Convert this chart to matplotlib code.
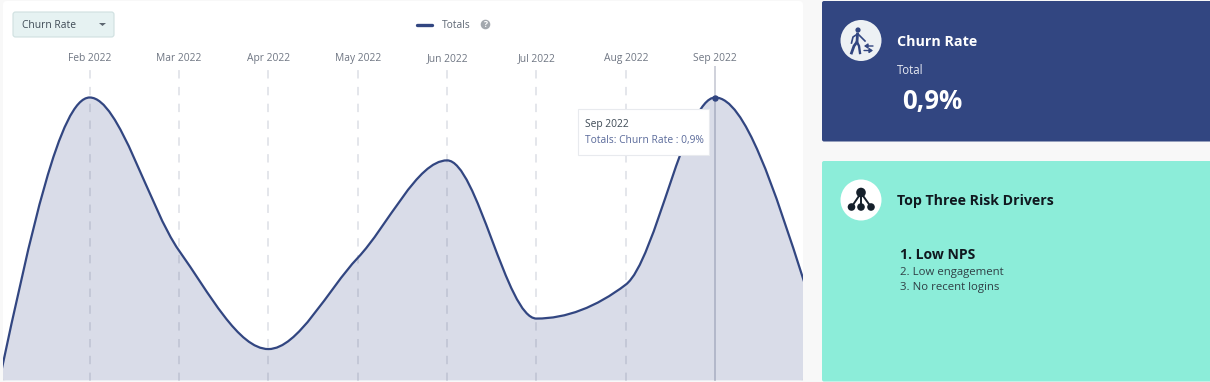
import numpy as np
import matplotlib
matplotlib.use('Agg')
import matplotlib.pyplot as plt
from matplotlib.patches import FancyBboxPatch, Circle, PathPatch, Rectangle, Polygon
from matplotlib.path import Path

plt.rcParams['font.family'] = ['Open Sans', 'DejaVu Sans']

W, H = 1210, 382

# chart data, churn rate in percent per month
months = ['Jan 2022', 'Feb 2022', 'Mar 2022', 'Apr 2022', 'May 2022', 'Jun 2022',
          'Jul 2022', 'Aug 2022', 'Sep 2022', 'Oct 2022']
churn = [0.015, 0.90, 0.413, 0.10, 0.39, 0.70, 0.197, 0.305, 0.90, 0.31]
shown_months = months[1:9]

risk_drivers = ['1. Low NPS', '2. Low engagement', '3. No recent logins']

NAVY = '#324681'
MINT = '#8CEDD9'
GRID = '#DDDFE6'
LABEL = '#6F7683'


def monotone_path(xs, ys):
    # monotone cubic, flat at local extremes
    n = len(xs)
    sec = [(ys[i + 1] - ys[i]) / (xs[i + 1] - xs[i]) for i in range(n - 1)]
    tan = [0.0] * n
    for i in range(1, n - 1):
        p = (sec[i - 1] + sec[i]) / 2
        tan[i] = (np.sign(sec[i - 1]) + np.sign(sec[i])) * min(abs(sec[i - 1]), abs(sec[i]), 0.5 * abs(p))
    tan[0] = (3 * sec[0] - tan[1]) / 2
    tan[-1] = (3 * sec[-1] - tan[-2]) / 2
    verts = [(xs[0], ys[0])]
    codes = [Path.MOVETO]
    for i in range(n - 1):
        h = (xs[i + 1] - xs[i]) / 3
        verts += [(xs[i] + h, ys[i] + h * tan[i]), (xs[i + 1] - h, ys[i + 1] - h * tan[i + 1]), (xs[i + 1], ys[i + 1])]
        codes += [Path.CURVE4] * 3
    return verts, codes


fig = plt.figure(figsize=(W / 100, H / 100), dpi=100, facecolor='#F8F8F8')

# pixel layer for the cards and widgets
bg = fig.add_axes([0, 0, 1, 1])
bg.set_xlim(0, W)
bg.set_ylim(H, 0)
bg.axis('off')
bg.add_patch(FancyBboxPatch((3, 1), 800, 380, boxstyle='round,pad=0,rounding_size=4', fc='white', ec='none'))

# chart
left_px, right_px, top_px, base_px = 3, 803, 8, 380.5
ax = fig.add_axes([left_px / W, 1 - base_px / H, (right_px - left_px) / W, (base_px - top_px) / H])
ax.patch.set_alpha(0)
x = np.arange(len(months))
step = 89.35
x0 = (89.7 - left_px) / step
ax.set_xlim(1 - x0, 1 - x0 + (right_px - left_px) / step)
per_px = 0.9 / 283
ax.set_ylim(0, (base_px - top_px) * per_px)

top_grid = (base_px - 66) * per_px
ax.vlines(x[1:8], 0, top_grid, color=GRID, lw=1.1, linestyles=(0, (5.5, 5.5)), zorder=1)
ax.vlines(x[8], 0, top_grid, color='#CBCED8', lw=1.3, zorder=1)

verts, codes = monotone_path(list(x), churn)
area_v = verts + [(x[-1], 0), (x[0], 0), verts[0]]
area_c = codes + [Path.LINETO, Path.LINETO, Path.CLOSEPOLY]
ax.add_patch(PathPatch(Path(area_v, area_c), fc='#3A4A85', alpha=0.19, ec='none', zorder=2))
ax.add_patch(PathPatch(Path(verts, codes), fc='none', ec=NAVY, lw=1.6, zorder=3, capstyle='round'))
ax.plot(x[8], churn[8], 'o', ms=3.6, color=NAVY, zorder=4, clip_on=False)

ax.set_xticks(x[1:9])
ax.set_xticklabels(shown_months, fontsize=7.4, color=LABEL)
ax.xaxis.tick_top()
ax.tick_params(axis='x', length=0, pad=-40.5)
ax.set_yticks([])
for s in ax.spines.values():
    s.set_visible(False)

# overlay for the widgets
fg = fig.add_axes([0, 0, 1, 1], zorder=5)
fg.set_xlim(0, W)
fg.set_ylim(H, 0)
fg.axis('off')

# dropdown
fg.add_patch(FancyBboxPatch((13, 12), 101, 25, boxstyle='round,pad=0,rounding_size=2.5', fc='#E6F2F2', ec='#CFE0E0', lw=0.8))
fg.text(22, 25, 'Churn Rate', fontsize=7.4, color='#3E4A55', va='center')
fg.add_patch(Polygon([(99, 23), (106, 23), (102.5, 26), ], fc='#5C6670', ec='none'))

# legend
fg.plot([417, 432], [24.5, 24.5], color=NAVY, lw=2.4, solid_capstyle='round')
fg.text(442, 25, 'Totals', fontsize=7.4, color='#5F6875', va='center')
fg.add_patch(Circle((485.5, 24.5), 4.8, fc='#A3A8AE', ec='none'))
fg.text(485.5, 24.5, '?', fontsize=6, color='white', ha='center', va='center', fontweight='bold')

# tooltip
fg.add_patch(Rectangle((578, 109), 131, 46, fc='white', ec='#E8EAEE', lw=0.8))
fg.text(585, 124.5, 'Sep 2022', fontsize=7.4, color='#3E4A55', va='center')
fg.text(585, 140.5, 'Totals: Churn Rate : 0,9%', fontsize=7.4, color='#5A6A9A', va='center')

# navy card
fg.add_patch(FancyBboxPatch((822, 1), 390, 140.5, boxstyle='round,pad=0,rounding_size=2', fc=NAVY, ec='none'))
fg.add_patch(Circle((861, 40.5), 20.5, fc='#EDF1F4', ec='none'))
fg.add_patch(Circle((858, 30), 2.6, fc=NAVY, ec='none'))
fg.plot([857.5, 857, 854, 851.5], [34, 42, 46, 53], color=NAVY, lw=2)
fg.plot([857, 859, 860], [42, 46, 53], color=NAVY, lw=1.7)
fg.plot([857.5, 853, 851.5], [34, 37, 43], color=NAVY, lw=1.2)
fg.plot([858, 862, 865], [34, 38, 41], color=NAVY, lw=1.2)
fg.annotate('', xy=(864, 46), xytext=(873, 46), arrowprops=dict(arrowstyle='-|>,head_width=0.14,head_length=0.2', color=NAVY, lw=1, shrinkA=0, shrinkB=0))
fg.annotate('', xy=(873, 50.5), xytext=(864, 50.5), arrowprops=dict(arrowstyle='-|>,head_width=0.14,head_length=0.2', color=NAVY, lw=1, shrinkA=0, shrinkB=0))
fg.text(897, 42, 'Churn Rate', fontsize=10.3, color='white', fontweight='bold', va='center')
fg.text(897, 70.5, 'Total', fontsize=8.3, color='#E6E9F2', va='center')
fg.text(902, 101.5, '0,9%', fontsize=18.6, color='white', fontweight='bold', va='center')

# mint card
fg.add_patch(FancyBboxPatch((822, 161), 390, 220.5, boxstyle='round,pad=0,rounding_size=2', fc=MINT, ec='none'))
fg.add_patch(Circle((861, 200), 20.5, fc='white', ec='none'))
for a, b in [((861, 193), (851.5, 207)), ((861, 193), (861, 207)), ((861, 193), (871, 207))]:
    fg.plot([a[0], b[0]], [a[1], b[1]], color='#15202B', lw=1.4)
fg.add_patch(Circle((861, 192.5), 4.8, fc='#15202B', ec='none'))
for cx in (851.5, 861, 871):
    fg.add_patch(Circle((cx, 207), 3.8, fc='#15202B', ec='none'))
fg.text(897, 201.5, 'Top Three Risk Drivers', fontsize=10.2, color='#10181F', fontweight='bold', va='center')
fg.text(899.5, 255, risk_drivers[0], fontsize=10.1, color='#10181F', fontweight='bold', va='center')
fg.text(899.5, 272, risk_drivers[1], fontsize=8.2, color='#2F3F45', va='center')
fg.text(899.5, 287.5, risk_drivers[2], fontsize=8.2, color='#2F3F45', va='center')

fig.savefig('out.png', dpi=100, facecolor=fig.get_facecolor())
